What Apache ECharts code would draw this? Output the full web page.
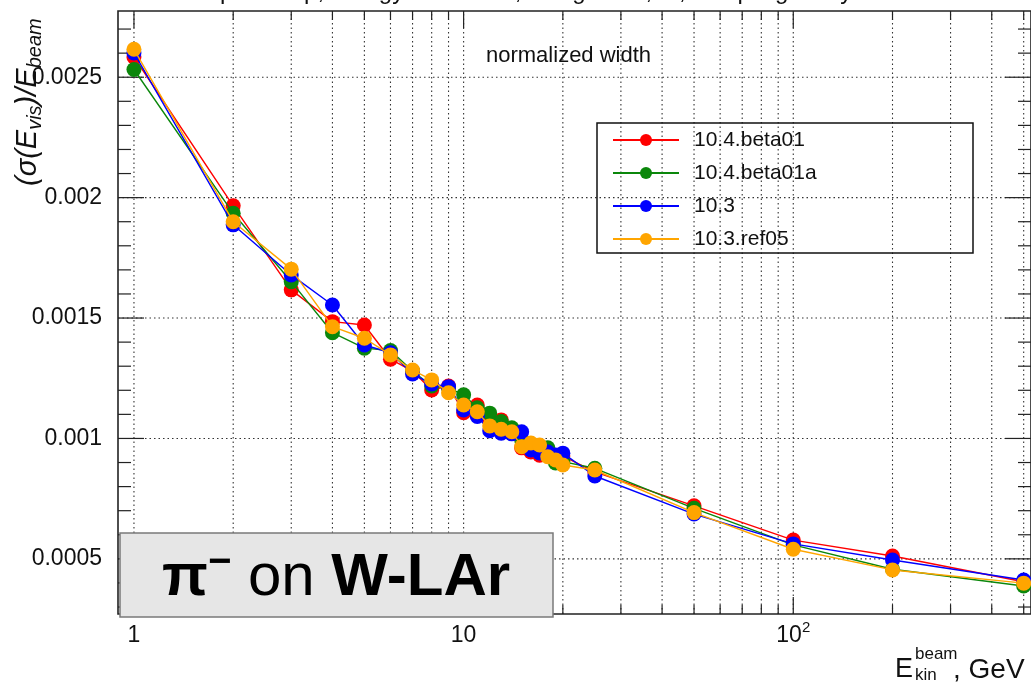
<!DOCTYPE html>
<html>
<head>
<meta charset="utf-8">
<script src="https://cdn.jsdelivr.net/npm/echarts@6/dist/echarts.min.js"></script>
<style>
  html, body { margin: 0; padding: 0; background: #fff; }
  #chart { width: 1031px; height: 682px; }
</style>
</head>
<body>
<div id="chart"></div>
<script>
// Beam kinetic energies, GeV
const energies = [1, 2, 3, 4, 5, 6, 7, 8, 9, 10, 11, 12, 13, 14, 15, 16, 17, 18, 19, 20, 25, 50, 100, 200, 500];

// Normalized width sigma(E_vis)/E_beam for each Geant4 version
const beta01 = [0.002584, 0.001966, 0.001617, 0.001485, 0.001471, 0.001329, 0.00128, 0.001201, 0.001218, 0.001107,
  0.001139, 0.001077, 0.001077, 0.001031, 0.000961, 0.000944, 0.00093, 0.000931, 0.000919, 0.000927,
  0.000861, 0.00072, 0.000578, 0.000512, 0.000405];
const beta01a = [0.002532, 0.001935, 0.001651, 0.001439, 0.001375, 0.001365, 0.00128, 0.001218, 0.00121, 0.001181,
  0.001127, 0.001105, 0.00107, 0.001044, 0.000994, 0.000965, 0.000952, 0.000961, 0.000898, 0.000904,
  0.000876, 0.00071, 0.000558, 0.000457, 0.000387];
const v103 = [0.002601, 0.001887, 0.001679, 0.001554, 0.001388, 0.001356, 0.001268, 0.001226, 0.001215, 0.001118,
  0.001091, 0.001032, 0.001022, 0.001019, 0.001028, 0.000952, 0.00094, 0.000944, 0.000931, 0.000939,
  0.000844, 0.000686, 0.000562, 0.000495, 0.000412];
const ref05 = [0.002616, 0.0019, 0.001703, 0.001464, 0.001416, 0.001347, 0.001284, 0.001243, 0.00119, 0.001139,
  0.001111, 0.001052, 0.001038, 0.001028, 0.000966, 0.000981, 0.000973, 0.000924, 0.000911, 0.00089,
  0.000869, 0.000692, 0.00054, 0.000454, 0.000399];

const seriesNames = ['10.4.beta01', '10.4.beta01a', '10.3', '10.3.ref05'];
const seriesColors = ['#ff0000', '#0b870b', '#0000ff', '#ffa500'];
const seriesValues = [beta01, beta01a, v103, ref05];

// Axis ticks and labels
const xMajor = [1, 10, 100];
const xTickLabels = ['{b|1}', '{b|10}', '{b|10}{s|2}'];
const xMinor = [2, 3, 4, 5, 6, 7, 8, 9, 20, 30, 40, 50, 60, 70, 80, 90, 200, 300, 400, 500];
const yMajor = [0.0005, 0.001, 0.0015, 0.002, 0.0025];
const yTickLabels = ['0.0005', '0.001', '0.0015', '0.002', '0.0025'];
const yMinor = [0.0003, 0.0004, 0.0006, 0.0007, 0.0008, 0.0009, 0.0011, 0.0012, 0.0013, 0.0014,
  0.0016, 0.0017, 0.0018, 0.0019, 0.0021, 0.0022, 0.0023, 0.0024, 0.0026, 0.0027];

const X_MIN = 0.8945, X_MAX = 526.2;
const Y_MIN = 0.000271, Y_MAX = 0.002775;

const FONT = '"Liberation Sans", Arial, Helvetica, sans-serif';

// Frame, dotted grid and inward ticks on all four sides
function renderFrame(params, api) {
  const bl = api.coord([X_MIN, Y_MIN]);
  const tr = api.coord([X_MAX, Y_MAX]);
  const left = bl[0], bottom = bl[1], right = tr[0], top = tr[1];
  const kids = [];
  const dotted = { stroke: '#333', lineWidth: 1.1, lineDash: [1.5, 3] };
  const solid = { stroke: '#222', lineWidth: 1.2 };
  const line = (x1, y1, x2, y2, style) => kids.push({ type: 'line', shape: { x1, y1, x2, y2 }, style });

  xMajor.concat(xMinor).forEach(v => {
    const x = api.coord([v, Y_MIN])[0];
    line(x, bottom, x, top, dotted);
  });
  yMajor.forEach(v => {
    const y = api.coord([X_MIN, v])[1];
    line(left, y, right, y, dotted);
  });
  xMajor.forEach(v => {
    const x = api.coord([v, Y_MIN])[0];
    line(x, bottom, x, bottom - 17, solid);
    line(x, top, x, top + 17, solid);
  });
  xMinor.forEach(v => {
    const x = api.coord([v, Y_MIN])[0];
    line(x, bottom, x, bottom - 9, solid);
    line(x, top, x, top + 9, solid);
  });
  yMajor.forEach(v => {
    const y = api.coord([X_MIN, v])[1];
    line(left, y, left + 26, y, solid);
    line(right, y, right - 26, y, solid);
  });
  yMinor.forEach(v => {
    const y = api.coord([X_MIN, v])[1];
    line(left, y, left + 13, y, solid);
    line(right, y, right - 13, y, solid);
  });
  kids.push({
    type: 'rect',
    shape: { x: left, y: top, width: right - left, height: bottom - top },
    style: { fill: null, stroke: '#222', lineWidth: 1.6 }
  });
  return { type: 'group', children: kids };
}

const chart = echarts.init(document.getElementById('chart'), null, { renderer: 'canvas' });

const lineSeries = seriesNames.map((name, i) => ({
  name,
  type: 'line',
  data: energies.map((e, k) => [e, seriesValues[i][k]]),
  symbol: 'circle',
  symbolSize: 15,
  color: seriesColors[i],
  itemStyle: { color: seriesColors[i] },
  lineStyle: { color: seriesColors[i], width: 1.4 },
  z: 3 + i,
  clip: false
}));

chart.setOption({
  animation: false,
  backgroundColor: '#fff',
  textStyle: { fontFamily: FONT },
  grid: { left: 118, top: 11, right: -1, bottom: 68, containLabel: false },
  xAxis: {
    type: 'log',
    logBase: 10,
    min: X_MIN,
    max: X_MAX,
    axisLine: { show: false },
    axisTick: { show: false },
    splitLine: { show: false },
    minorTick: { show: false },
    axisLabel: {
      customValues: xMajor,
      margin: 6,
      color: '#111',
      formatter: v => {
        const i = xMajor.findIndex(m => Math.abs(m - v) < 1e-6 * m);
        return i >= 0 ? xTickLabels[i] : '';
      },
      rich: {
        b: { fontSize: 23, lineHeight: 32, fontFamily: FONT, color: '#111' },
        s: { fontSize: 15, lineHeight: 15, verticalAlign: 'top', fontFamily: FONT, color: '#111' }
      }
    }
  },
  yAxis: {
    type: 'value',
    min: Y_MIN,
    max: Y_MAX,
    axisLine: { show: false },
    axisTick: { show: false },
    splitLine: { show: false },
    axisLabel: {
      customValues: yMajor,
      margin: 16,
      fontSize: 23,
      color: '#111',
      fontFamily: FONT,
      formatter: v => {
        const i = yMajor.findIndex(m => Math.abs(m - v) < 1e-9);
        return i >= 0 ? yTickLabels[i] : '';
      }
    }
  },
  legend: {
    orient: 'vertical',
    left: 612,
    top: 129,
    padding: 0,
    itemWidth: 66,
    itemHeight: 15,
    itemGap: 11,
    data: seriesNames,
    textStyle: { fontSize: 21, lineHeight: 22, color: '#111', fontFamily: FONT, padding: [0, 0, 0, 10] }
  },
  series: [
    {
      type: 'custom',
      name: 'frame',
      silent: true,
      z: 1,
      data: [[1, 0.001]],
      renderItem: renderFrame
    },
    ...lineSeries
  ],
  graphic: [
    {
      type: 'text', left: 'center', top: -20, z: 20,
      style: { text: 'Simple setup, energy resolution, using Birks, ..., sampling study', fontSize: 24, fontFamily: FONT, fill: '#111' }
    },
    {
      type: 'rect', z: 20,
      shape: { x: 597, y: 123, width: 376, height: 130 },
      style: { fill: null, stroke: '#111', lineWidth: 1.5 }
    },
    {
      type: 'text', x: 486, y: 56, z: 20,
      style: { text: 'normalized width', fontSize: 22, fontFamily: FONT, fill: '#111', textVerticalAlign: 'middle' }
    },
    {
      type: 'text', x: 28, y: 186, rotation: Math.PI / 2, z: 20,
      style: {
        text: '{m|(σ(E}{s|vis}{m|)/E}{s|beam}',
        textAlign: 'left', textVerticalAlign: 'middle',
        rich: {
          m: { fontSize: 29, lineHeight: 34, fontStyle: 'italic', fontFamily: FONT, fill: '#111' },
          s: { fontSize: 20, lineHeight: 20, verticalAlign: 'bottom', fontStyle: 'italic', fontFamily: FONT, fill: '#111' }
        }
      }
    },
    {
      type: 'text', x: 895, y: 670, z: 20,
      style: { text: 'E', fontSize: 27, fontFamily: FONT, fill: '#111', textVerticalAlign: 'middle' }
    },
    {
      type: 'text', x: 915, y: 654, z: 20,
      style: { text: 'beam', fontSize: 17, fontFamily: FONT, fill: '#111', textVerticalAlign: 'middle' }
    },
    {
      type: 'text', x: 915, y: 675, z: 20,
      style: { text: 'kin', fontSize: 17, fontFamily: FONT, fill: '#111', textVerticalAlign: 'middle' }
    },
    {
      type: 'text', x: 953, y: 670, z: 20,
      style: { text: ', GeV', fontSize: 28, fontFamily: FONT, fill: '#111', textVerticalAlign: 'middle' }
    },
    {
      type: 'group', z: 30,
      children: [
        {
          type: 'rect', z: 30,
          shape: { x: 120, y: 533, width: 433, height: 84 },
          style: { fill: '#e6e6e6', stroke: '#7a7a7a', lineWidth: 1.5 }
        },
        {
          type: 'text', x: 336, y: 578, z: 31,
          style: {
            text: '{b|π}{sup|−}{r| on }{b|W-LAr}',
            textAlign: 'center', textVerticalAlign: 'middle',
            rich: {
              b: { fontSize: 60, lineHeight: 70, fontWeight: 'bold', fontFamily: FONT, fill: '#000' },
              sup: { fontSize: 40, lineHeight: 36, verticalAlign: 'top', fontWeight: 'bold', fontFamily: FONT, fill: '#000' },
              r: { fontSize: 60, lineHeight: 70, fontFamily: FONT, fill: '#000' }
            }
          }
        }
      ]
    }
  ]
});
</script>
</body>
</html>
